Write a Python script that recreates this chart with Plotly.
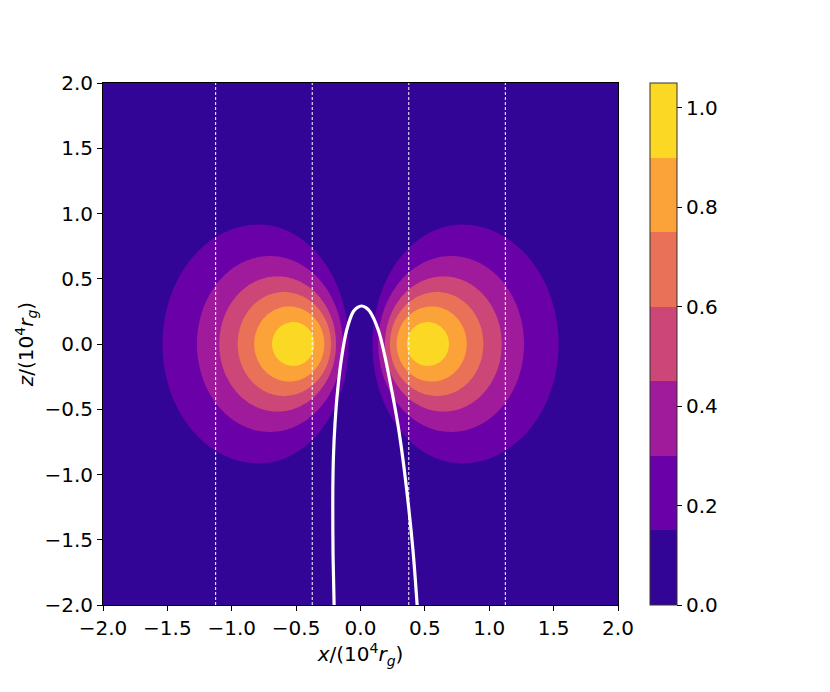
import numpy as np
import plotly.graph_objects as go

# ---- data ----
LEVELS = [0.15, 0.30, 0.45, 0.60, 0.75, 0.90]          # contour boundaries
# right lobe (left lobe is its mirror image): boundary extents per level
X_INNER = [0.092, 0.138, 0.190, 0.229, 0.281, 0.359]   # inner edge on z=0
X_OUTER = [1.538, 1.270, 1.097, 0.954, 0.825, 0.687]   # outer edge on z=0
X_TOP = [0.790, 0.705, 0.645, 0.595, 0.553, 0.523]     # x of highest point
Z_HALF = [0.915, 0.674, 0.518, 0.398, 0.288, 0.168]    # half height
BAND_COLORS = ['#320596', '#6a00a8', '#a01a9c', '#cc4778',
               '#e97158', '#fba238', '#fad824']
CBAR_MIN, CBAR_MAX = 0.0, 1.05
CBAR_TICKS = [0.0, 0.2, 0.4, 0.6, 0.8, 1.0]
DASHED_X = [-1.125, -0.375, 0.375, 1.125]
CURVE_X = [-0.205, -0.213, -0.215, -0.215, -0.210, -0.198, -0.177, -0.146,
           -0.107, -0.056, -0.025, 0.008, 0.042, 0.072, 0.138, 0.190, 0.242,
           0.289, 0.327, 0.359, 0.387, 0.412, 0.440]
CURVE_Z = [-2.00, -1.63, -1.37, -1.12, -0.86, -0.61, -0.35, -0.10,
           0.107, 0.248, 0.279, 0.291, 0.279, 0.250, 0.107, -0.097, -0.353,
           -0.608, -0.864, -1.120, -1.373, -1.631, -2.00]
AXIS_TICKS = [-2.0, -1.5, -1.0, -0.5, 0.0, 0.5, 1.0, 1.5, 2.0]

# ---- build the gridded field from the measured contour boundaries ----
gx = np.linspace(-2, 2, 401)
gz = np.linspace(-2, 2, 401)
X, Z = np.meshgrid(gx, gz)
AX = np.abs(X)
field = np.full(X.shape, LEVELS[0] / 2.0)
W = 0.03
prev = 0.0
for k, lev in enumerate(LEVELS):
    a = np.where(AX < X_TOP[k], X_TOP[k] - X_INNER[k], X_OUTER[k] - X_TOP[k])
    b = Z_HALF[k]
    rho = np.sqrt(((AX - X_TOP[k]) / a) ** 2 + (Z / b) ** 2)
    r = np.sqrt(a * b)
    h = np.clip(0.5 + (1 - rho) * r / W, 0, 1)
    field += (lev - prev) * h
    prev = lev
field = np.round(field, 4)

n = len(BAND_COLORS)
# contour fill colorscale (band j centred at j/(n-1))
cs_contour = []
for j, c in enumerate(BAND_COLORS):
    lo = max(0.0, (j - 0.5) / (n - 1))
    hi = min(1.0, (j + 0.5) / (n - 1))
    cs_contour += [[lo, c], [hi, c]]
# colorbar colorscale: n equal bands between CBAR_MIN and CBAR_MAX
cs_bar = []
for j, c in enumerate(BAND_COLORS):
    cs_bar += [[j / n, c], [(j + 1) / n, c]]

FONT = 'DejaVu Sans'
ML, MT, PW, PH = 95, 75, 515, 522
fig = go.Figure()
fig.add_trace(go.Contour(
    x=gx, y=gz, z=field,
    contours=dict(start=LEVELS[0], end=LEVELS[-1], size=LEVELS[1] - LEVELS[0],
                  coloring='fill', showlines=False),
    line=dict(width=0),
    colorscale=cs_contour, showscale=False, hoverinfo='skip'))
fig.add_trace(go.Scatter(
    x=CURVE_X, y=CURVE_Z, mode='lines',
    line=dict(color='white', width=3.2, shape='spline', smoothing=1.0),
    showlegend=False, hoverinfo='skip'))
fig.add_trace(go.Scatter(
    x=[None, None], y=[None, None], mode='markers',
    marker=dict(color=[CBAR_MIN, CBAR_MAX], cmin=CBAR_MIN, cmax=CBAR_MAX,
                colorscale=cs_bar, showscale=True, opacity=0,
                colorbar=dict(x=(642 - ML) / PW, xanchor='left', xpad=0, ypad=0,
                              y=0.5, yanchor='middle', len=1.0, lenmode='fraction',
                              thickness=27, outlinewidth=1, outlinecolor='#333',
                              tickvals=CBAR_TICKS,
                              ticktext=['%.1f' % t for t in CBAR_TICKS],
                              ticks='outside', ticklen=5, tickwidth=1,
                              tickcolor='black',
                              tickfont=dict(family=FONT, size=20, color='black'))),
    showlegend=False, hoverinfo='skip'))

for xv in DASHED_X:
    fig.add_vline(x=xv, line=dict(color='white', width=1, dash='3px,2px'),
                  layer='above')

axis_common = dict(range=[-2, 2], tickvals=AXIS_TICKS,
                   ticktext=[('\u2212%.1f' % -t) if t < 0 else '%.1f' % t for t in AXIS_TICKS],
                   ticks='outside', ticklen=5, tickwidth=1, tickcolor='black',
                   showline=True, linecolor='black', linewidth=1, mirror=True,
                   showgrid=False, zeroline=False,
                   tickfont=dict(family=FONT, size=20, color='black'))
fig.update_layout(
    width=830, height=692, autosize=False,
    margin=dict(l=ML, r=830 - ML - PW, t=MT, b=692 - MT - PH),
    paper_bgcolor='white', plot_bgcolor='white',
    font=dict(family=FONT, size=20, color='black'),
    showlegend=False,
    xaxis=dict(axis_common,
               title=dict(text='<i>x</i>/(10<sup>4</sup><i>r</i><sub><i>g</i></sub>)',
                          standoff=4, font=dict(family=FONT, size=20))),
    yaxis=dict(axis_common,
               title=dict(text='<i>z</i>/(10<sup>4</sup><i>r</i><sub><i>g</i></sub>)',
                          standoff=5, font=dict(family=FONT, size=20))),
)
fig.write_html('out.html')
